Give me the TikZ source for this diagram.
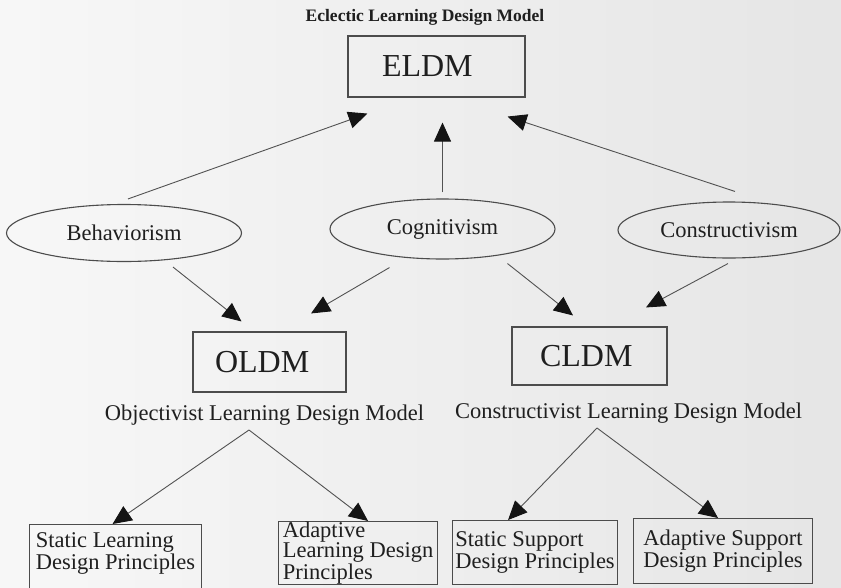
\documentclass[tikz,border=0pt]{standalone}
\usepackage{fontspec}
\setmainfont{Liberation Serif}
\usetikzlibrary{arrows.meta,calc,shapes.geometric}
\begin{document}
\begin{tikzpicture}[x=1pt,y=-1pt,
  every node/.style={text=black!88},
  ink/.style={draw=black!70, line width=1.1pt},
  acr/.style={ink, rectangle, align=left, inner ysep=0pt, font=\fontsize{32}{36}\selectfont},
  school/.style={ink, ellipse, inner sep=0pt, font=\fontsize{22.5}{24}\selectfont},
  lab/.style={inner sep=0pt, font=\fontsize{22.5}{24}\selectfont},
  pbox/.style={ink, rectangle, align=left, inner sep=0pt, anchor=north west, font=\fontsize{22.5}{20}\selectfont},
  arr/.style={draw=black!68, line width=0.9pt, -{Triangle[length=19pt,width=17pt,color=black!92]}}]

% page tone
\fill[left color=white!97!black, right color=white!90!black] (0,0) rectangle (841,587);
\useasboundingbox (0,0) rectangle (841,587);

% top level model
\node[font=\bfseries\fontsize{17.5}{20}\selectfont] (title) at (425,17) {Eclectic Learning Design Model};
\node[acr, minimum height=61pt, inner xsep=34pt, text width=109pt] (eldm) at (436.5,66.5) {ELDM};

% learning theories
\node[school, minimum width=235pt, minimum height=57pt] (beh) at (124,233) {Behaviorism};
\node[school, minimum width=225pt, minimum height=60pt] (cog) at (442.5,229) {Cognitivism};
\node[school, minimum width=222pt, minimum height=56pt] (con) at (729,230) {Constructivism};

% derived design models
\node[acr, minimum height=60pt, inner xsep=22pt, text width=109pt] (oldm) at (269.5,362) {OLDM};
\node[acr, minimum height=58pt, inner xsep=28pt, text width=99pt] (cldm) at (589.5,356) {CLDM};
\node[lab] (olab) at (264.5,415) {Objectivist Learning Design Model};
\node[lab, anchor=west] (clab) at (455,413) {Constructivist Learning Design Model};
\coordinate (ofork) at (249,430);
\coordinate (cfork) at (597,428);

% design principles
\node[pbox, minimum width=172pt, minimum height=76pt, text depth=23pt] (sldp) at (29,524) {Static Learning\\Design Principles};
\node[pbox, minimum width=159pt, minimum height=62pt, font=\fontsize{22.5}{18}\selectfont] (aldp) at (278,521) {Adaptive\\Learning Design\\Principles};
\node[pbox, minimum width=165pt, minimum height=64pt] (ssdp) at (452,520) {Static Support\\Design Principles};
\node[pbox, minimum width=179pt, minimum height=65pt] (asdp) at (633,518) {Adaptive Support\\Design Principles};

% theories feed the eclectic model
\draw[arr] ($(beh.north)+(4,-5)$) -- ($(eldm.south west)+(20,16)$);
\draw[arr] ($(cog.north)+(0,-6)$) -- ($(eldm.south -| cog.north)+(0,25)$);
\draw[arr] ($(con.north)+(6,-10)$) -- ($(eldm.south east)+(-18,19)$);

% theories feed the two design models
\draw[arr] ($(beh.south)+(49,5)$) -- ($(oldm.north)+(-28,-10)$);
\draw[arr] ($(cog.south)+(-53,8)$) -- ($(oldm.north)+(41.5,-18)$);
\draw[arr] ($(cog.south)+(65,4)$) -- ($(cldm.north)+(-16.5,-11)$);
\draw[arr] ($(con.south)+(-1,5)$) -- ($(cldm.north)+(56.5,-19)$);

% models split into principles
\draw[arr] (ofork) -- ($(sldp.north)+(-3,0)$);
\draw[arr] (ofork) -- ($(aldp.north)+(10,0)$);
\draw[arr] (cfork) -- ($(ssdp.north)+(-27,0)$);
\draw[arr] (cfork) -- ($(asdp.north)+(-5,0)$);
\end{tikzpicture}
\end{document}
